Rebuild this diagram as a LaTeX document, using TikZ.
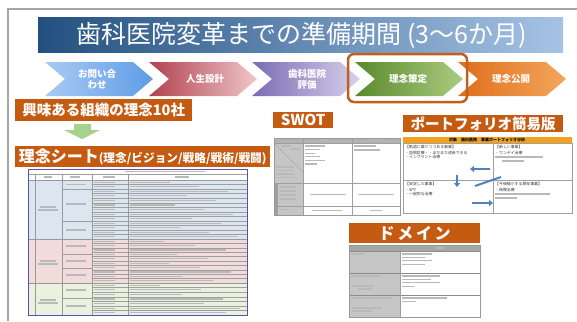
\documentclass[tikz,border=0pt]{standalone}
\usepackage{fontspec}
\setmainfont{Noto Sans CJK JP}
\usetikzlibrary{arrows.meta}
\definecolor{orgbox}{HTML}{C55A11}
\definecolor{hilite}{HTML}{C0601C}
\definecolor{titleL}{HTML}{23507F}
\definecolor{titleR}{HTML}{A6C3E5}
\definecolor{bluecell}{HTML}{DCE6F1}
\definecolor{pinkcell}{HTML}{F2DCDB}
\definecolor{greencell}{HTML}{EBF1DE}
\definecolor{portorange}{HTML}{F4A21E}
\definecolor{arrowblue}{HTML}{4F81BD}
\definecolor{downgreen}{HTML}{A9D18E}
\definecolor{stepblueL}{HTML}{A9CBF3}
\definecolor{stepblueR}{HTML}{5E9CE6}
\definecolor{stepredL}{HTML}{B0424F}
\definecolor{stepredR}{HTML}{F0C6CA}
\definecolor{stepvioL}{HTML}{7B6CB3}
\definecolor{stepvioR}{HTML}{D8D0EC}
\definecolor{stepgreenL}{HTML}{5A8A2D}
\definecolor{stepgreenR}{HTML}{ABCB80}
\definecolor{steporgL}{HTML}{DF6E1C}
\definecolor{steporgR}{HTML}{F4A65C}
\tikzset{
  lbl/.style={fill=orgbox, text=white, font=\bfseries, inner sep=0pt, anchor=north west},
  chevtext/.style={text=white, font=\bfseries\fontsize{9.5}{11}\selectfont, align=center},
  grid/.style={draw=gray!75, line width=0.35pt},
  textbar/.style={draw=gray!55, line width=1.1pt},
  tinytext/.style={font=\fontsize{3.9}{4.2}\selectfont, anchor=west, inner sep=0pt, text=black!80},
  bluearrow/.style={draw=arrowblue, line width=2pt, -{Triangle[length=4pt,width=6pt]}},
}
\begin{document}
\begin{tikzpicture}[x=1pt,y=-1pt]%
\useasboundingbox (0,0) rectangle (577,321);
%
\def\chevron(#1)(#2:#3)% Syntax: (left x) (left colour:right colour)
{ \shade [ left color=#2, right color=#3 ] (#1,62) -- ++(88,0) -- ++(20,17) -- ++(-20,17) -- ++(-88,0) -- ++(20,-17) -- cycle; };
\def\tbar(#1,#2)(#3)% Syntax: (x,y) (length)
{ \draw [ textbar ] (#1,#2) -- ++(#3,0); };
%
% slide frame
\draw [ gray!70, line width=2pt ] (8,321) -- (8,9.5) -- (577,9.5);
%
% title banner
\shade [ left color=titleL, right color=titleR ] (38,18) rectangle (563,52);
\node [ text=white, font=\fontsize{25}{27}\selectfont ] (title) at (302,35) {歯科医院変革までの準備期間 (3〜6か月)};
%
% steps
\chevron(45)(stepblueL:stepblueR)
\chevron(149)(stepredL:stepredR)
\chevron(252)(stepvioL:stepvioR)
\chevron(355)(stepgreenL:stepgreenR)
\chevron(458)(steporgL:steporgR)
\node [ chevtext ] (step1) at (97,79) {お問い合\\わせ};
\node [ chevtext ] (step2) at (205,79) {人生設計};
\node [ chevtext ] (step3) at (307,79) {歯科医院\\評価};
\node [ chevtext ] (step4) at (408,79) {理念策定};
\node [ chevtext ] (step5) at (511,79) {理念公開};
\draw [ hilite, line width=2.5pt, rounded corners=6pt ] (348,54) rectangle (467,102);
%
% left column
\node [ lbl, minimum width=177, minimum height=22 ] (kyomi) at (15,99) {\fontsize{14.5}{15}\selectfont 興味ある組織の理念10社};
\fill [ downgreen ] (74,124) -- (91,124) -- (91,130) -- (100,130) -- (82,139) -- (64,130) -- (74,130) -- cycle;
\node [ lbl, minimum width=255, minimum height=21 ] (rinen) at (15,146) {{\fontsize{16}{17}\selectfont 理念シート}{\fontsize{11.7}{13}\selectfont (理念/ビジョン/戦略/戦術/戦闘)}};
%
% rinen sheet table
\fill [ white ] (28,169) rectangle (247,180);
\fill [ bluecell ] (28,180) rectangle (247,239);
\fill [ pinkcell ] (28,239) rectangle (247,283);
\fill [ greencell ] (28,283) rectangle (247,315);
\tbar(125,171.5)(80)
\draw [ grid ] (28,174) -- (247,174);
\foreach \x/\l in {44/8,70/10,103/12,175/14} { \tbar(\x,177)(\l) }
\foreach \i/\l in {0/40,1/69,2/98,3/57,4/86,5/45,6/74,7/103,8/62,9/91,10/50,11/79,12/108} {
  \draw [ grid ] (92,180+\i*4.54) -- (247,180+\i*4.54);
  \tbar(94,182.3+\i*4.54)(21)
  \tbar(130,182.3+\i*4.54)(\l)
}
\foreach \i/\l in {0/34,1/65,2/96,3/47,4/78,5/39,6/70,7/101,8/52,9/83} {
  \draw [ grid ] (92,239+\i*4.4) -- (247,239+\i*4.4);
  \tbar(94,241.2+\i*4.4)(21)
  \tbar(130,241.2+\i*4.4)(\l)
}
\foreach \i/\l in {0/30,1/71,2/52,3/93,4/74,5/110,6/96} {
  \draw [ grid ] (92,283+\i*4.57) -- (247,283+\i*4.57);
  \tbar(94,285.3+\i*4.57)(21)
  \tbar(130,285.3+\i*4.57)(\l)
}
\foreach \y in {189,221,254,268,298} { \draw [ grid ] (62,\y) -- (92,\y); }
\foreach \y in {180,239,283} { \draw [ gray!80, line width=0.5pt ] (28,\y) -- (247,\y); }
\foreach \x in {35,62,92,128} { \draw [ gray!80, line width=0.5pt ] (\x,174) -- (\x,315); }
\foreach \y in {207,261,300} { \tbar(40,\y)(16) \tbar(38,\y+3)(20) }
\foreach \y in {184.5,204,230,246,261,275,290,306} { \tbar(66,\y)(20) }
\draw [ blue!35!gray, line width=0.8pt ] (28,169) rectangle (247,315);
%
% SWOT
\node [ lbl, minimum width=60, minimum height=16 ] (swot) at (273,112) {\fontsize{15}{16}\selectfont SWOT};
\fill [ gray!60 ] (274,138) rectangle (400,143);
\fill [ gray!45 ] (274,143) rectangle (303,215);
\fill [ gray!75 ] (274,183) rectangle (278,215);
\draw [ grid ] (274,143) -- (303,172);
\foreach \y in {143,183,206} { \draw [ grid ] (274,\y) -- (400,\y); }
\foreach \x in {303,352} { \draw [ grid ] (\x,138) -- (\x,215); }
\draw [ gray!80, line width=0.6pt ] (274,138) rectangle (400,215);
\tbar(322,140.5)(8) \tbar(372,140.5)(8)
\tbar(281,146)(10) \tbar(290,149)(10)
\foreach \i in {0,...,3} { \tbar(276,167+\i*3.5)(18) }
\foreach \i/\l in {0/20,1/15,2/10,3/15,4/20,5/12} { \tbar(305,146+\i*3.6)(\l) }
\tbar(354,146)(22) \tbar(354,150)(26)
\foreach \i in {0,...,3} { \tbar(280,187+\i*4)(16) }
\tbar(310,194.5)(36) \tbar(358,194.5)(36)
\tbar(280,209.5)(10) \tbar(312,210.5)(30) \tbar(370,210.5)(12)
%
% portfolio
\node [ lbl, minimum width=160, minimum height=17 ] (portfolio) at (403,115) {\fontsize{14.5}{15}\selectfont ポートフォリオ簡易版};
\fill [ portorange ] (403,137) rectangle (572,143);
\node [ font=\bfseries\fontsize{4}{4}\selectfont, inner sep=0pt ] (porthead) at (487,140) {対象\quad 歯科医院\quad 事業ポートフォリオ分析};
\draw [ grid ] (403,143) rectangle (572,213);
\draw [ grid ] (493,143) -- (493,213);
\draw [ grid ] (403,180) -- (572,180);
\node [ tinytext ] (q1) at (405,147) {【軌道に乗りつつある事業】};
\node [ tinytext ] (q1a) at (405,153) {・訪問診療・・まだまだ成長できる};
\node [ tinytext ] (q1b) at (405,157) {・インプラント治療};
\node [ tinytext ] (q2) at (495,147) {【新しい事業】};
\node [ tinytext ] (q2a) at (495,153) {・ワンデイ治療};
\tbar(495,157)(48) \tbar(502,161)(22)
\node [ tinytext ] (q3) at (405,184) {【安定した事業】};
\node [ tinytext ] (q3a) at (405,190) {・SPT};
\node [ tinytext ] (q3b) at (405,194) {・一般的な治療};
\node [ tinytext ] (q4) at (495,184) {【今後縮小する既存事業】};
\node [ tinytext ] (q4a) at (495,190) {・保険治療};
\tbar(495,194)(55) \tbar(495,198)(22)
\coordinate (a1s) at (490,169); \coordinate (a1e) at (470,169);
\coordinate (a2s) at (457,175); \coordinate (a2e) at (457,187);
\coordinate (a3s) at (475,186); \coordinate (a3e) at (501,177);
\coordinate (a4s) at (472,203); \coordinate (a4e) at (493,203);
\draw [ bluearrow ] (a1s) -- (a1e);
\draw [ bluearrow ] (a2s) -- (a2e);
\draw [ arrowblue, line width=2pt ] (a3s) -- (a3e);
\draw [ bluearrow ] (a4s) -- (a4e);
%
% domain
\node [ lbl, minimum width=131, minimum height=20 ] (domain) at (349,223) {\fontsize{16}{17}\selectfont ド\,メ\,イ\,ン};
\fill [ gray!70 ] (349,245) rectangle (480,251);
\fill [ gray!45 ] (349,251) rectangle (400,317);
\foreach \y in {251,273,295} { \draw [ gray!90, line width=0.5pt ] (349,\y) -- (480,\y); }
\draw [ grid ] (400,245) -- (400,317);
\draw [ gray!80, line width=0.6pt ] (349,245) rectangle (480,317);
\tbar(436,248)(8)
\tbar(351,254)(14)
\foreach \i/\l in {0/30,1/23,2/30,3/23} { \tbar(402,254+\i*3.4)(\l) }
\tbar(351,276)(30) \tbar(352,286)(22) \tbar(358,289)(14)
\foreach \i/\l in {0/38,1/29,2/38,3/12} { \tbar(402,276+\i*3.4)(\l) }
\tbar(351,298)(40) \tbar(352,308)(30) \tbar(352,311)(20)
\tbar(402,298)(45) \tbar(402,301.5)(14)
%
\end{tikzpicture}
\end{document}
